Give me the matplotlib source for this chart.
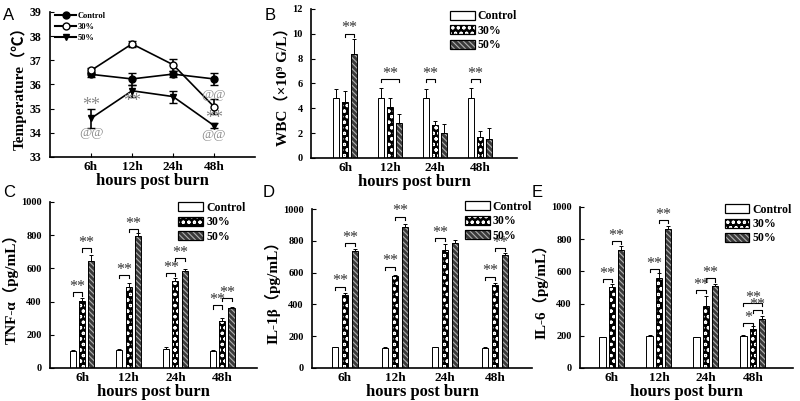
import numpy as np
import matplotlib
matplotlib.use('Agg')
import matplotlib.pyplot as plt
from matplotlib.patches import Patch
from matplotlib.lines import Line2D

plt.rcParams['font.family'] = ['Liberation Serif', 'Noto Sans CJK SC', 'DejaVu Sans']
plt.rcParams['font.weight'] = 'bold'
plt.rcParams['axes.labelweight'] = 'bold'
plt.rcParams['hatch.linewidth'] = 0.8

hours = ['6h', '12h', '24h', '48h']
groups = ['Control', '30%', '50%']

# A - temperature
temp_ctrl = [36.42, 36.23, 36.43, 36.23]
temp_ctrl_err = [0.1, 0.25, 0.12, 0.25]
temp_30 = [36.58, 37.68, 36.82, 35.08]
temp_30_err = [0.12, 0.12, 0.25, 0.3]
temp_50 = [34.6, 35.74, 35.5, 34.3]
temp_50_err = [0.4, 0.25, 0.25, 0.1]
# (x index, y, text)
temp_marks = [(0, 35.15, '**'), (0, 34.0, '@@'), (1, 35.3, '**'),
              (3, 35.57, '@@'), (3, 34.6, '**'), (3, 33.9, '@@')]

# B - WBC
wbc_ctrl = [4.87, 4.83, 4.87, 4.83]
wbc_ctrl_err = [0.68, 0.8, 0.68, 0.8]
wbc_30 = [4.52, 4.1, 2.68, 1.69]
wbc_30_err = [0.86, 0.75, 0.3, 0.5]
wbc_50 = [8.4, 2.85, 2.05, 1.53]
wbc_50_err = [1.18, 0.67, 0.67, 0.9]
wbc_brackets = [(0, 1, 2, 10.0, '**'), (1, 0, 2, 6.35, '**'),
                (2, 0, 1, 6.35, '**'), (3, 0, 1, 6.35, '**')]

# C - TNF-a
tnf_ctrl = [100, 108, 115, 104]
tnf_ctrl_err = [8, 6, 10, 5]
tnf_30 = [402, 487, 525, 285]
tnf_30_err = [20, 22, 20, 16]
tnf_50 = [645, 797, 585, 362]
tnf_50_err = [36, 15, 12, 8]
tnf_brackets = [(0, 0, 1, 455, '**'), (0, 1, 2, 720, '**'), (1, 0, 1, 560, '**'),
                (1, 1, 2, 840, '**'), (2, 0, 1, 575, '**'), (2, 1, 2, 665, '**'),
                (3, 0, 1, 378, '**'), (3, 1, 2, 422, '**')]

# D - IL-1b
il1b_ctrl = [130, 128, 130, 128]
il1b_ctrl_err = [3, 3, 3, 3]
il1b_30 = [460, 578, 742, 525]
il1b_30_err = [10, 10, 40, 8]
il1b_50 = [738, 886, 786, 711]
il1b_50_err = [10, 20, 20, 10]
il1b_brackets = [(0, 0, 1, 512, '**'), (0, 1, 2, 785, '**'), (1, 0, 1, 638, '**'),
                 (1, 1, 2, 952, '**'), (2, 0, 1, 816, '**'), (3, 0, 1, 575, '**'),
                 (3, 1, 2, 753, '**')]

# E - IL-6
il6_ctrl = [190, 197, 190, 198]
il6_ctrl_err = [5, 5, 5, 5]
il6_30 = [500, 560, 382, 240]
il6_30_err = [20, 30, 65, 18]
il6_50 = [730, 863, 510, 306]
il6_50_err = [25, 20, 10, 15]
il6_brackets = [(0, 0, 1, 553, '**'), (0, 1, 2, 788, '**'), (1, 0, 1, 614, '**'),
                (1, 1, 2, 918, '**'), (2, 0, 1, 485, '**'), (2, 1, 2, 557, '**'),
                (3, 0, 1, 278, '*'), (3, 1, 2, 361, '**'), (3, 0, 2, 404, '**')]

bar_w = 0.13
bar_off = 0.2
hatch_30 = 'ooo'
hatch_50 = '\\\\\\\\\\\\'
face_50 = '#3a3a3a'
line_50 = '#b0b0b0'


def style_axes(ax):
    ax.spines['top'].set_visible(False)
    ax.spines['right'].set_visible(False)
    ax.spines['left'].set_linewidth(1.2)
    ax.spines['bottom'].set_linewidth(1.2)
    ax.tick_params(axis='y', direction='in', length=3, labelsize=7.5, pad=6)
    ax.set_xticks(np.arange(1, 5))
    ax.set_xticklabels(hours, fontsize=9.5)
    ax.set_xlabel('hours post burn', fontsize=12, labelpad=0)


def bar_panel(ax, ctrl, ctrl_err, p30, p30_err, p50, p50_err, brackets, ymax, ystep, ylabel, xlim, leg_anchor):
    x = np.arange(1, 5)
    ek = dict(capsize=1.5, elinewidth=0.7, capthick=0.7, ecolor='black')
    ax.bar(x - bar_off, ctrl, bar_w, color='white', edgecolor='black', lw=0.7,
           yerr=[np.zeros(4), ctrl_err], error_kw=ek)
    ax.bar(x, p30, bar_w, color='black', edgecolor='white', lw=0, hatch=hatch_30)
    ax.bar(x, p30, bar_w, fill=False, edgecolor='black', lw=0.7,
           yerr=[np.zeros(4), p30_err], error_kw=ek)
    ax.bar(x + bar_off, p50, bar_w, color=face_50, edgecolor=line_50, lw=0, hatch=hatch_50)
    ax.bar(x + bar_off, p50, bar_w, fill=False, edgecolor='black', lw=0.7,
           yerr=[np.zeros(4), p50_err], error_kw=ek)

    h = ymax * 0.02
    for g, i, j, y, txt in brackets:
        x1 = g + 1 + (i - 1) * bar_off
        x2 = g + 1 + (j - 1) * bar_off
        ax.plot([x1, x1, x2, x2], [y - h, y, y, y - h], color='black', lw=0.8)
        ax.text((x1 + x2) / 2, y - h * 0.9, txt, ha='center', va='bottom',
                fontsize=11.5, fontweight='normal', color='#333333')

    ax.set_ylim(0, ymax)
    ax.set_yticks(np.arange(0, ymax + ystep / 2, ystep))
    ax.set_xlim(*xlim)
    ax.set_ylabel(ylabel, fontsize=11, labelpad=2)
    style_axes(ax)
    ax.tick_params(axis='x', length=0, pad=3)

    handles = [Patch(facecolor='white', edgecolor='black', lw=0.9),
               (Patch(facecolor='black', edgecolor='white', lw=0, hatch=hatch_30),
                Patch(fill=False, edgecolor='black', lw=0.9)),
               (Patch(facecolor=face_50, edgecolor=line_50, lw=0, hatch=hatch_50),
                Patch(fill=False, edgecolor='black', lw=0.9))]
    ax.legend(handles, groups, loc='upper left', bbox_to_anchor=leg_anchor, frameon=False,
              fontsize=8.5, handlelength=2.1, handleheight=0.8, handletextpad=0.25,
              labelspacing=0.2, borderaxespad=0, borderpad=0)


fig = plt.figure(figsize=(8, 4.01), dpi=100)

# A
axA = fig.add_axes([0.0625, 0.6085, 0.25625, 0.3616])
x = np.arange(1, 5)
axA.errorbar(x, temp_ctrl, yerr=temp_ctrl_err, color='black', marker='o', ms=5,
             lw=1.2, capsize=3, label='Control')
axA.errorbar(x, temp_30, yerr=temp_30_err, color='black', marker='o', ms=5,
             mfc='white', lw=1.2, capsize=3, label='30%')
axA.errorbar(x, temp_50, yerr=temp_50_err, color='black', marker='v', ms=5,
             lw=1.2, capsize=3, label='50%')
for i, y, txt in temp_marks:
    axA.text(i + 1, y, txt, ha='center', va='center',
             fontsize=13 if txt == '**' else 9.5,
             fontweight='normal', color='#8a8a8a')
axA.set_xlim(0, 5)
axA.set_ylim(33, 39)
axA.set_yticks(np.arange(33, 40))
axA.set_ylabel('Temperature（℃）', fontsize=11, labelpad=2)
style_axes(axA)
axA.tick_params(axis='y', labelsize=8.5)
axA.tick_params(axis='x', direction='in', length=3, pad=3)
la = [Line2D([], [], color='black', marker='o', ms=5),
      Line2D([], [], color='black', marker='o', ms=5, mfc='white'),
      Line2D([], [], color='black', marker='v', ms=5)]
axA.legend(la, groups, loc='upper left', bbox_to_anchor=(0.025, 1.0), frameon=False,
           fontsize=6, handlelength=2.5, handletextpad=0.2, labelspacing=0.35,
           borderaxespad=0, borderpad=0)

# B
axB = fig.add_axes([0.3888, 0.606, 0.2575, 0.3716])
bar_panel(axB, wbc_ctrl, wbc_ctrl_err, wbc_30, wbc_30_err, wbc_50, wbc_50_err,
          wbc_brackets, 12, 2, 'WBC（×10⁹ G/L）', (0.244, 4.82), (0.675, 0.99))

# C
axC = fig.add_axes([0.0625, 0.0823, 0.259, 0.414])
bar_panel(axC, tnf_ctrl, tnf_ctrl_err, tnf_30, tnf_30_err, tnf_50, tnf_50_err,
          tnf_brackets, 1000, 200, 'TNF-α（pg/mL）', (0.314, 4.75), (0.62, 1.0))

# D
axD = fig.add_axes([0.39, 0.0823, 0.275, 0.3965])
bar_panel(axD, il1b_ctrl, il1b_ctrl_err, il1b_30, il1b_30_err, il1b_50, il1b_50_err,
          il1b_brackets, 1000, 200, 'IL-1β（pg/mL）', (0.34, 4.74), (0.695, 1.05))

# E
axE = fig.add_axes([0.725, 0.0823, 0.266, 0.4015])
bar_panel(axE, il6_ctrl, il6_ctrl_err, il6_30, il6_30_err, il6_50, il6_50_err,
          il6_brackets, 1000, 200, 'IL-6（pg/mL）', (0.32, 4.85), (0.68, 1.02))

for lbl, px, py in [('A', 3, 8), ('B', 265, 8), ('C', 3, 185), ('D', 263, 185), ('E', 532, 185)]:
    fig.text(px / 800, 1 - py / 401, lbl, ha='left', va='top', fontsize=12,
             fontweight='normal', family='Liberation Sans')

fig.savefig('out.png', dpi=100)
